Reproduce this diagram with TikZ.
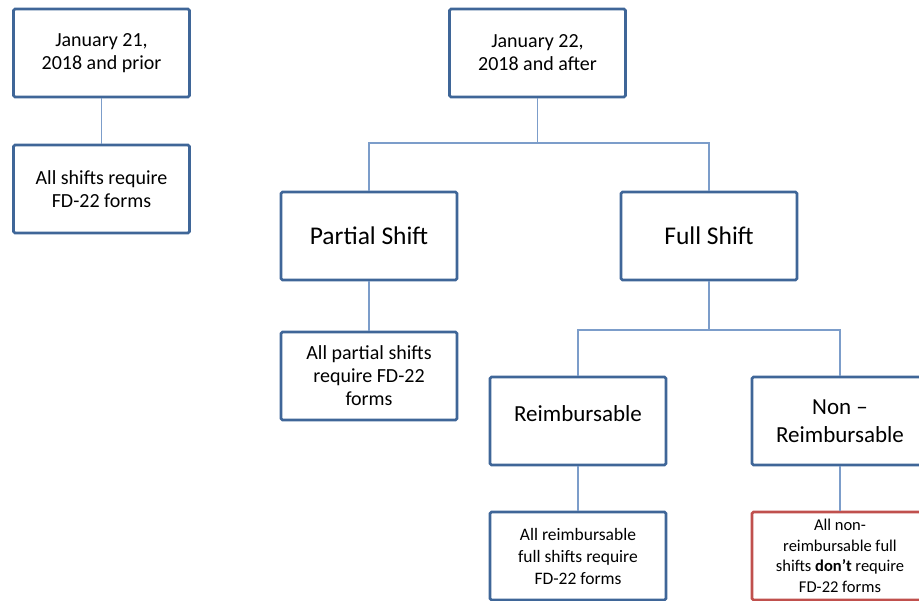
\documentclass[tikz,border=0pt]{standalone}
\usepackage{fontspec}
\setmainfont{Carlito}
\definecolor{boxblue}{HTML}{3F6698}
\definecolor{linkblue}{HTML}{7C9DCA}
\definecolor{boxred}{HTML}{C0504D}
\begin{document}
\begin{tikzpicture}[
    x=1pt, y=-1pt,
    box/.style={draw=boxblue, line width=2.6pt, rounded corners=1.5pt, fill=white,
                minimum width=176pt, minimum height=88pt, inner sep=0pt, align=center},
    small/.style={font=\fontsize{20}{23}\selectfont},
    tiny/.style={font=\fontsize{17.5}{22}\selectfont},
    big/.style={font=\fontsize{25.5}{29}\selectfont},
    mid/.style={font=\fontsize{23}{28}\selectfont},
    link/.style={draw=linkblue, line width=1.2pt}
]
    \useasboundingbox (0,0) rectangle (919,601);

    % left branch
    \node[box, small] (jan21) at (101.5, 53) {January 21,\\2018 and prior};
    \node[box, small] (allshifts) at (101.5, 189) {All shifts require\\FD-22 forms};

    % right branch, top
    \node[box, small] (jan22) at (537.5, 53) {January 22,\\2018 and after};
    \node[box, big] (partial) at (369, 236) {Partial Shift};
    \node[box, big] (full) at (709, 236) {Full Shift};

    % partial shift
    \node[box, small] (partialnote) at (369, 376) {All partial shifts\\require FD-22\\forms};

    % full shift
    \node[box, mid, text depth=14pt] (reimb) at (578, 421) {Reimbursable};
    \node[box, mid] (nonreimb) at (840, 421) {Non --\\Reimbursable};
    \node[box, tiny] (reimbnote) at (578, 556) {All reimbursable\\full shifts require\\FD-22 forms};
    \node[box, draw=boxred, font=\fontsize{16.5}{20.5}\selectfont] (nonreimbnote) at (840, 556)
        {All non-\\reimbursable full\\shifts \textbf{don’t} require\\FD-22 forms};

    % connectors
    \coordinate (split1) at (537.5, 143);
    \coordinate (split2) at (709, 330);
    \draw[link] (jan21) -- (allshifts);
    \draw[link] (jan22) -- (split1);
    \draw[link] (split1) -| (partial.north);
    \draw[link] (split1) -| (full.north);
    \draw[link] (partial) -- (partialnote);
    \draw[link] (full) -- (split2);
    \draw[link] (split2) -| (reimb.north);
    \draw[link] (split2) -| (nonreimb.north);
    \draw[link] (reimb) -- (reimbnote);
    \draw[link] (nonreimb) -- (nonreimbnote);
\end{tikzpicture}
\end{document}
